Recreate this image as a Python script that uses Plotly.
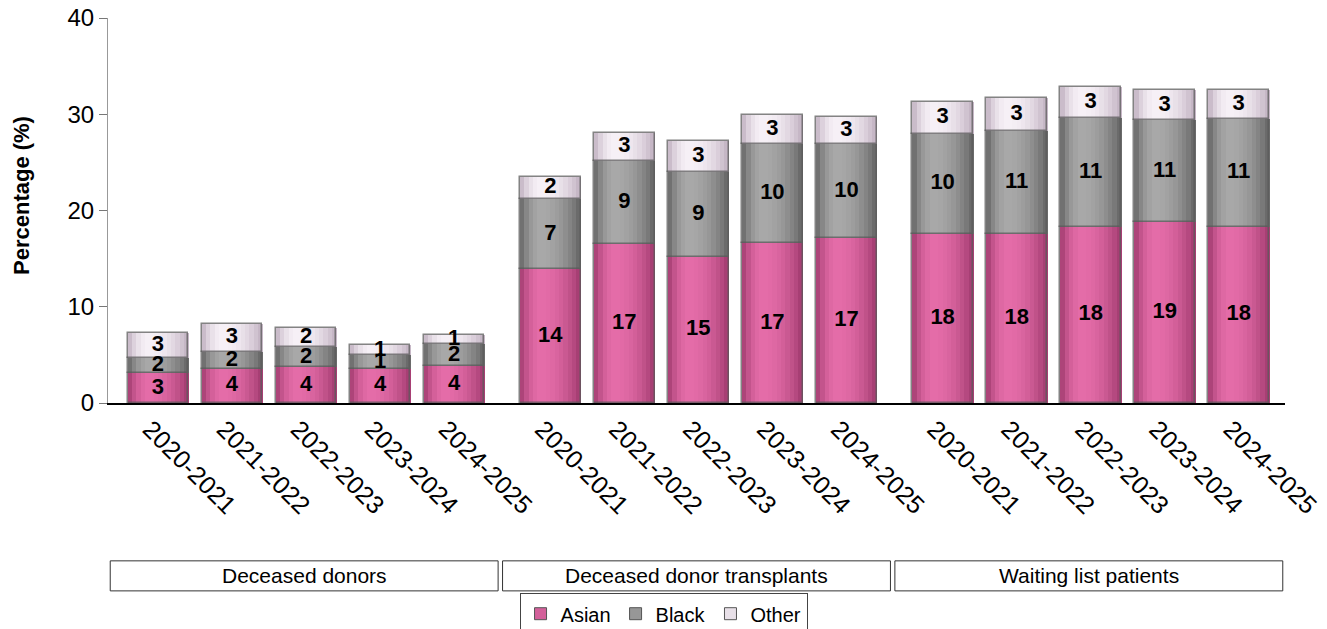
import plotly.graph_objects as go

groups = ["Deceased donors", "Deceased donor transplants", "Waiting list patients"]
years = ["2020-2021", "2021-2022", "2022-2023", "2023-2024", "2024-2025"]
series = ["Asian", "Black", "Other"]

asian = [3.1, 3.55, 3.7, 3.55, 3.8, 13.9, 16.55, 15.2, 16.6, 17.1, 17.6, 17.6, 18.3, 18.8, 18.3]
black = [1.6, 1.8, 2.1, 1.4, 2.3, 7.3, 8.6, 8.8, 10.3, 9.8, 10.4, 10.7, 11.3, 10.6, 11.2]
other = [2.6, 2.9, 2.0, 1.1, 1.0, 2.3, 2.9, 3.2, 3.0, 2.8, 3.3, 3.4, 3.2, 3.1, 3.0]

# colours: (edge, highlight)
shades = {
    "Asian": ((160, 58, 110), (228, 108, 168)),
    "Black": ((100, 100, 100), (168, 168, 168)),
    "Other": ((192, 176, 192), (246, 240, 246)),
}

GROUP_W = 5.3
OFFSET0 = 0.675
BAR_W = 0.82
N_STRIPS = 14

xpos = []
ticktext = []
for g in range(len(groups)):
    for i, yr in enumerate(years):
        xpos.append(g * GROUP_W + OFFSET0 + i)
        ticktext.append(yr)

values = {"Asian": asian, "Black": black, "Other": other}
bases = {}
run = [0.0] * len(xpos)
for s in series:
    bases[s] = list(run)
    run = [r + v for r, v in zip(run, values[s])]


def mix(a, b, t):
    return "rgb(%d,%d,%d)" % tuple(round(a[k] + (b[k] - a[k]) * t) for k in range(3))


fig = go.Figure()

for s in series:
    edge, hi = shades[s]
    w = BAR_W / N_STRIPS
    for k in range(N_STRIPS):
        t = (k + 0.5) / N_STRIPS
        d = (t - 0.35) / (0.35 if t < 0.35 else 0.65)
        f = max(0.0, 1 - d * d)
        fig.add_trace(go.Bar(
            x=xpos, y=values[s], base=bases[s],
            width=w * 1.15, offset=-BAR_W / 2 + k * w,
            marker=dict(color=mix(edge, hi, f), line=dict(width=0)),
            showlegend=False, hoverinfo="skip",
        ))
    # outline
    fig.add_trace(go.Bar(
        x=xpos, y=values[s], base=bases[s],
        width=BAR_W, offset=-BAR_W / 2,
        marker=dict(color="rgba(0,0,0,0)", line=dict(color="rgba(90,90,90,0.75)", width=1.5)),
        showlegend=False, hoverinfo="skip",
    ))

# legend entries
for s in series:
    edge, hi = shades[s]
    fig.add_trace(go.Bar(
        x=[None], y=[None], name=s,
        marker=dict(color=mix(edge, hi, 0.75), line=dict(color="#555", width=1)),
        showlegend=True,
    ))

# value labels
for s in series:
    mids = [b + v / 2 for b, v in zip(bases[s], values[s])]
    fig.add_trace(go.Scatter(
        x=xpos, y=mids, mode="text",
        text=["%d" % round(v + 1e-9) for v in values[s]],
        textfont=dict(family="Arial, Liberation Sans", size=22, color="black", weight="bold"),
        showlegend=False, hoverinfo="skip",
    ))

narrow = "Liberation Sans Narrow, Arial Narrow, Arial"

shapes = []
annotations = []
for g, name in enumerate(groups):
    shapes.append(dict(type="rect", xref="x", yref="paper",
                       x0=g * GROUP_W + 0.03, x1=(g + 1) * GROUP_W - 0.03,
                       y0=-0.488, y1=-0.410,
                       line=dict(color="#333", width=1), fillcolor="white"))
    annotations.append(dict(xref="x", yref="paper", x=(g + 0.5) * GROUP_W, y=-0.449,
                            text=name, showarrow=False,
                            font=dict(family=narrow, size=21, color="black"),
                            xanchor="center", yanchor="middle"))

annotations.append(dict(xref="paper", yref="paper", x=-0.074, y=0.54,
                        text="<b>Percentage (%)</b>", showarrow=False, textangle=-90,
                        font=dict(family="Arial, Liberation Sans", size=22, color="black"),
                        xanchor="center", yanchor="middle"))

# the page body adds an 8px offset; figure is sized so the plot area lands where the reference has it
fig.update_layout(
    width=1319, height=621,
    margin=dict(l=100, r=42, t=10, b=226, autoexpand=False),
    barmode="overlay",
    bargap=0,
    plot_bgcolor="white", paper_bgcolor="white",
    showlegend=True,
    legend=dict(orientation="h", x=0.472, xanchor="center", y=-0.494, yanchor="top",
                bordercolor="#444", borderwidth=1, bgcolor="white",
                font=dict(family=narrow, size=20, color="black"),
                itemwidth=30, traceorder="normal"),
    shapes=shapes,
    annotations=annotations,
    xaxis=dict(range=[0, 3 * GROUP_W], tickmode="array", tickvals=xpos, ticktext=ticktext,
               tickangle=45, showline=True, linecolor="black", linewidth=1.5,
               ticks="", showgrid=False, zeroline=False, automargin=False,
               ticklabeloverflow="allow", ticklabelshift=-8,
               tickfont=dict(family="Arial, Liberation Sans", size=25, color="black")),
    yaxis=dict(range=[0, 40], tickvals=[0, 10, 20, 30, 40], showline=True, linecolor="#999",
               linewidth=1, ticks="outside", ticklen=8, tickcolor="#777", showgrid=False,
               zeroline=False, automargin=False, ticklabeloverflow="allow",
               tickfont=dict(family="Arial, Liberation Sans", size=24, color="black")),
)

fig.write_html("out.html")
